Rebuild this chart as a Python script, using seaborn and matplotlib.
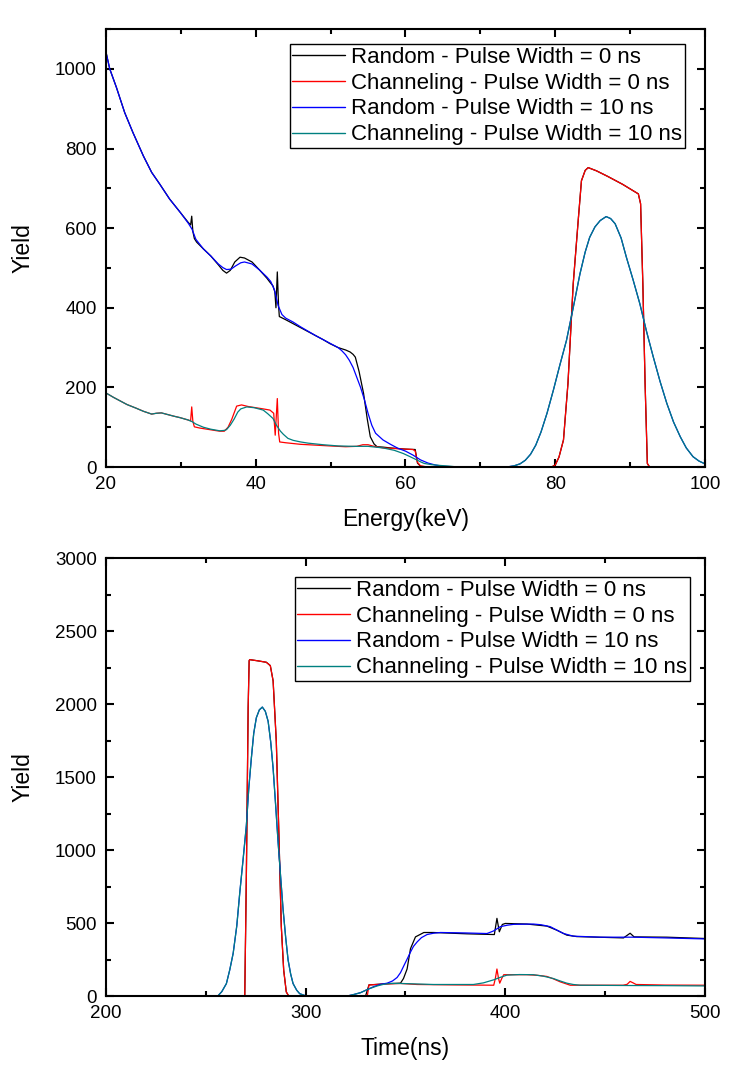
import numpy as np
import pandas as pd
import matplotlib
matplotlib.use("Agg")
import matplotlib.pyplot as plt
import seaborn as sns
from matplotlib.ticker import MultipleLocator

# =========================
# DATA - ENERGY SPECTRA (top)
# =========================

# Random - Pulse Width = 0 ns, low energy part
E_rand0 = [20, 20.5, 21.4, 22.5, 23.6, 25, 26.1, 27.2, 28.5, 29.9, 31, 31.3, 31.45, 31.6, 31.8, 32.1,
           33, 34, 35, 35.6, 36.1, 36.6, 37.2, 37.9, 38.5, 39.5, 40.5, 41.5, 41.9, 42.3, 42.55, 42.7,
           42.88, 43.05, 43.15, 44, 45, 46, 47, 48, 49, 49.9, 51, 52, 52.6, 53.0, 53.3, 53.8, 54.4,
           54.9, 55.3, 55.8, 56.2, 57, 58, 60, 61.3, 61.6, 62, 63]
Y_rand0 = [1042, 1000, 953, 890, 840, 781, 740, 710, 673, 640, 614, 608, 630, 592, 574, 565,
           548, 530, 508, 494, 487, 494, 515, 527, 525, 515, 495, 474, 464, 455, 440, 400,
           490, 405, 378, 370, 360, 350, 340, 330, 320, 310, 300, 294, 289, 283, 276, 240, 185,
           120, 76, 58, 51, 50, 48, 45, 44, 10, 2, 0]

# Channeling - Pulse Width = 0 ns, low energy part
E_chan0 = [20, 21, 22, 22.8, 24, 25, 26.1, 26.7, 27.4, 28, 29, 29.9, 31, 31.3, 31.45, 31.6, 31.8,
           32.5, 33.5, 34.5, 35.2, 35.8, 36.3, 36.8, 37.45, 38.1, 39, 40, 41, 41.9, 42.4, 42.6,
           42.88, 43.05, 43.2, 44, 45, 46, 48, 49.9, 52, 53.5, 54.3, 55, 55.8, 57, 59, 61, 61.3,
           61.6, 62, 63]
Y_chan0 = [186, 175, 165, 157, 148, 140, 133, 135, 136, 133, 128, 124, 118, 116, 151, 115, 101,
           98, 95, 92, 90, 90, 100, 120, 153, 156, 152, 149, 146, 143, 135, 80,
           172, 85, 63, 61, 59, 57, 55, 53, 51, 52, 56, 56, 52, 48, 46, 44, 40,
           12, 3, 0]

# surface peak, 0 ns (same for random and channeling)
E_peak0 = [79.5, 80, 80.5, 81.1, 81.7, 82.4, 83.1, 83.5, 84.0, 84.4, 85.5, 87, 89, 91.1, 91.4,
           91.7, 92.0, 92.3, 92.6, 100]
Y_peak0 = [0, 5, 25, 68, 210, 460, 627, 719, 745, 752, 744, 730, 710, 686, 661,
           460, 210, 9, 0, 0]

# Random - Pulse Width = 10 ns, low energy part
E_rand10 = [20, 20.5, 21.4, 22.5, 23.6, 25, 26.1, 27.2, 28.5, 29.9, 31, 31.5, 32, 32.5, 33, 34, 35,
            35.6, 36.1, 36.7, 37.3, 38, 38.5, 39.5, 40.5, 41.5, 42, 42.5, 43, 43.5, 44, 45, 46, 47,
            48, 49, 50, 51, 51.5, 52, 52.5, 53, 53.5, 54, 54.5, 55, 55.5, 56, 57, 58, 59, 60, 61,
            62, 63, 64, 65, 67]
Y_rand10 = [1042, 1000, 953, 890, 840, 781, 740, 710, 673, 640, 612, 597, 572, 560, 548, 530, 510,
            501, 496, 497, 505, 513, 515, 510, 495, 477, 466, 445, 405, 383, 374, 364, 352, 341,
            330, 320, 310, 300, 292, 282, 268, 250, 225, 200, 170, 135, 105, 85, 68, 57, 47, 40, 30,
            18, 10, 5, 2, 0]

# Channeling - Pulse Width = 10 ns, low energy part
E_chan10 = [20, 21, 22, 22.8, 24, 25, 26.1, 26.7, 27.4, 28, 29, 29.9, 31, 31.5, 32, 33, 34, 35.2,
            35.8, 36.1, 36.6, 37.1, 37.6, 38.0, 38.8, 39.8, 41.0, 41.6, 42.3, 42.8, 43.3, 43.7,
            44.3, 45, 46, 47, 49, 51, 53, 55, 57, 58.5, 59.7, 60.5, 61.5, 61.9, 62.5, 63.5, 64.6,
            66, 67]
Y_chan10 = [186, 175, 165, 157, 148, 140, 133, 135, 136, 133, 128, 124, 118, 114, 108, 100, 95, 91,
            92, 94, 105, 120, 138, 146, 151, 149, 143, 134, 122, 104, 90, 82,
            72, 67, 63, 60, 56, 53, 52, 52, 48, 42, 34, 27, 18, 14, 9, 6, 4,
            2, 0]

# surface peak, 10 ns (same for random and channeling)
E_peak10 = [73.5, 74.5, 75.3, 76.0, 76.7, 77.4, 78.1, 78.9, 79.75, 80.6, 81.5, 82.4, 83.3, 84.0,
            84.6, 85.3, 86.0, 86.8, 87.4, 88.0, 88.8, 89.5, 90.4, 91.3, 92.2, 93.1, 94.0, 94.9,
            95.8, 96.7, 97.5, 98.4, 99.2, 100]
Y_peak10 = [0, 3, 8, 17, 32, 55, 88, 135, 193, 255, 318, 400, 485, 540,
            577, 603, 619, 629, 624, 611, 575, 527, 470, 410, 340, 276, 215, 160,
            113, 76, 48, 26, 15, 8]

# =========================
# DATA - TIME SPECTRA (bottom)
# =========================

# surface pulse, 0 ns (same for random and channeling)
T_pulse0 = [200, 269.5, 270.3, 271.2, 271.7, 272, 276, 280.3, 282.3, 283.7, 285.3, 286.7, 287.8,
            289, 290.3, 291.5]
C_pulse0 = [0, 0, 823, 1975, 2297, 2304, 2296, 2286, 2263, 2159, 1744, 1053, 477,
            177, 28, 0]

T_rand0 = [330.0, 331.7, 340, 347.5, 349, 350.8, 352.5, 355, 359.2, 364, 380.8, 394.5, 395.8, 397.0,
           398.5, 400, 410.8, 420.8, 425.8, 430.8, 435.8, 459.2, 462.5, 464.5, 480.8, 500]
C_rand0 = [0, 76, 84, 88, 120, 185, 324, 405, 435, 435, 426, 421, 532, 440,
           490, 497, 493, 479, 451, 417, 407, 398, 430, 405, 403, 394]

T_chan0 = [330.0, 331.0, 331.7, 340, 347.5, 355.8, 375, 394.2, 395.0, 395.8, 396.6, 397.2, 398.2,
           399.2, 410.8, 416, 420.8, 424, 427.5, 432.5, 459, 461, 462.5, 464, 465.5, 480, 500]
C_chan0 = [0, 10, 76, 82, 86, 79, 76, 74, 120, 185, 120, 88, 120,
           146, 146, 142, 134, 118, 97, 74, 74, 80, 100, 90, 79, 75, 74]

# surface pulse, 10 ns (same for random and channeling)
T_pulse10 = [200, 256, 258, 260.3, 262, 263.7, 265.5, 267, 268.7, 270.3, 271.5, 272.8, 274, 275.3,
             276.8, 278.3, 279.8, 281.2, 282.5, 283.7, 285, 286.2, 287.5, 288.7, 290, 291.2, 292.5,
             293.7, 295.5, 297, 300.3]
C_pulse10 = [0, 0, 30, 85, 180, 293, 480, 707, 940, 1168, 1420, 1629, 1800, 1906,
             1960, 1979, 1950, 1882, 1740, 1560, 1300, 1053, 810, 592, 400, 247, 150,
             85, 40, 16, 0]

T_rand10 = [320.8, 324, 327.5, 331, 334.2, 337.5, 340.8, 343.5, 345.8, 347.5, 349.2, 351, 352.5, 354,
            355.8, 358, 360.8, 364, 367.5, 380, 390.8, 394, 397.5, 401, 404.2, 414, 418, 422.5, 426,
            429.2, 434, 447.5, 464, 480, 500]
C_rand10 = [0, 10, 23, 45, 65, 80, 88, 103, 127, 160, 208, 258, 301, 340,
            370, 400, 421, 430, 435, 432, 428, 445, 475, 485, 491, 493, 488, 475, 450,
            428, 410, 403, 403, 398, 391]

T_chan10 = [320.8, 324, 327.5, 331.5, 335.8, 339, 342.5, 347.5, 364, 384, 389, 394.2, 397.5, 400.8,
            407, 414, 419, 424, 427.5, 430.8, 434, 437.5, 460, 480, 500]
C_chan10 = [0, 10, 23, 48, 69, 80, 86, 86, 79, 79, 90, 111, 128, 143,
            147, 146, 136, 120, 103, 88, 79, 74, 72, 71, 69]

labels = ["Random - Pulse Width = 0 ns",
          "Channeling - Pulse Width = 0 ns",
          "Random - Pulse Width = 10 ns",
          "Channeling - Pulse Width = 10 ns"]
colors = ["#000000", "#ff0000", "#0000ff", "#008080"]

# =========================
# STYLE
# =========================

sns.set_style("ticks")
plt.rcParams['font.family'] = ['Liberation Sans', 'DejaVu Sans']
plt.rcParams['text.color'] = 'black'
plt.rcParams['axes.labelcolor'] = 'black'
plt.rcParams['xtick.color'] = 'black'
plt.rcParams['ytick.color'] = 'black'
plt.rcParams['axes.linewidth'] = 1.5

fig = plt.figure(figsize=(7.48, 10.68), dpi=100)
ax1 = fig.add_axes([0.1417, 0.5627, 0.8008, 0.4101])
ax2 = fig.add_axes([0.1417, 0.0674, 0.8008, 0.4101])

top_series = [
    (E_rand0 + E_peak0, Y_rand0 + Y_peak0),
    (E_chan0 + E_peak0, Y_chan0 + Y_peak0),
    (E_rand10 + E_peak10, Y_rand10 + Y_peak10),
    (E_chan10 + E_peak10, Y_chan10 + Y_peak10),
]
bottom_series = [
    (T_pulse0 + T_rand0, C_pulse0 + C_rand0),
    (T_pulse0 + T_chan0, C_pulse0 + C_chan0),
    (T_pulse10 + T_rand10, C_pulse10 + C_rand10),
    (T_pulse10 + T_chan10, C_pulse10 + C_chan10),
]

for ax, series in [(ax1, top_series), (ax2, bottom_series)]:
    for (xs, ys), lab, col in zip(series, labels, colors):
        sns.lineplot(x=xs, y=ys, ax=ax, color=col, label=lab, linewidth=0.9,
                     sort=False, estimator=None)

# =========================
# AXES
# =========================

ax1.set_xlim(20, 100)
ax1.set_ylim(0, 1100)
ax1.xaxis.set_major_locator(MultipleLocator(20))
ax1.xaxis.set_minor_locator(MultipleLocator(10))
ax1.yaxis.set_major_locator(MultipleLocator(200))
ax1.yaxis.set_minor_locator(MultipleLocator(100))
ax1.set_xlabel("Energy(keV)", fontsize=16.5, labelpad=11)
ax1.set_ylabel("Yield", fontsize=16.5, labelpad=15)

ax2.set_xlim(200, 500)
ax2.set_ylim(0, 3000)
ax2.xaxis.set_major_locator(MultipleLocator(100))
ax2.xaxis.set_minor_locator(MultipleLocator(50))
ax2.yaxis.set_major_locator(MultipleLocator(500))
ax2.yaxis.set_minor_locator(MultipleLocator(250))
ax2.set_xlabel("Time(ns)", fontsize=16.5, labelpad=11)
ax2.set_ylabel("Yield", fontsize=16.5, labelpad=15)

legend_pos = {ax1: (0.9666, 0.9658), ax2: (0.975, 0.9566)}

for ax in (ax1, ax2):
    ax.tick_params(which='both', direction='in', top=True, right=True,
                   labelsize=13.5, width=1.5, pad=6.5, colors='black')
    ax.tick_params(which='major', length=6)
    ax.tick_params(which='minor', length=3.5)
    for sp in ax.spines.values():
        sp.set_color('black')
        sp.set_linewidth(1.5)
    leg = ax.legend(loc='upper right', bbox_to_anchor=legend_pos[ax],
                    borderaxespad=0, fontsize=16, frameon=True, fancybox=False,
                    framealpha=1, edgecolor='black', borderpad=0.12,
                    labelspacing=0.22, handlelength=2.35, handletextpad=0.3)
    leg.get_frame().set_linewidth(1.0)
    for line in leg.get_lines():
        line.set_linewidth(1.0)

fig.savefig("out.png", dpi=100)
